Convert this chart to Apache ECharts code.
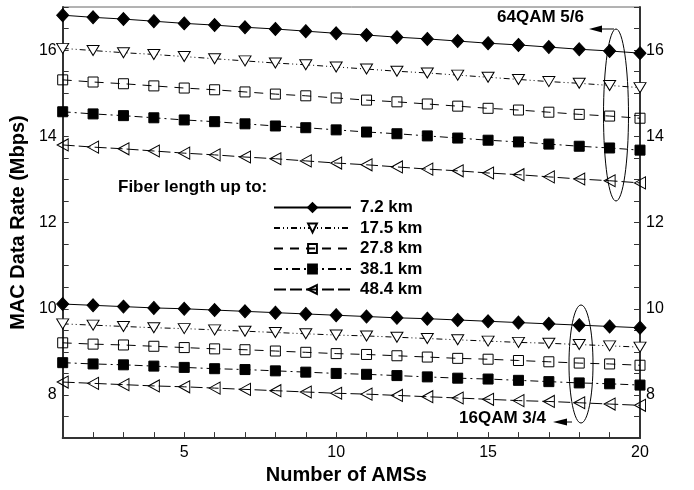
<!DOCTYPE html>
<html>
<head>
<meta charset="utf-8">
<script src="https://cdn.jsdelivr.net/npm/echarts@6/dist/echarts.min.js"></script>
<style>
  html, body { margin: 0; padding: 0; background: #fff; }
  #chart { width: 694px; height: 490px; }
</style>
</head>
<body>
<div id="chart"></div>
<script>
// number of AMSs
let ams = [1, 2, 3, 4, 5, 6, 7, 8, 9, 10, 11, 12, 13, 14, 15, 16, 17, 18, 19, 20];
let fiber_names = ['7.2 km', '17.5 km', '27.8 km', '38.1 km', '48.4 km'];

// 64QAM 5/6
let qam64_72 = [16.81, 16.76, 16.72, 16.67, 16.62, 16.58, 16.53, 16.49, 16.44, 16.39, 16.35, 16.30, 16.26, 16.21, 16.16, 16.12, 16.07, 16.02, 15.98, 15.93];
let qam64_175 = [16.04, 15.99, 15.94, 15.90, 15.85, 15.80, 15.75, 15.70, 15.66, 15.61, 15.56, 15.51, 15.47, 15.42, 15.37, 15.32, 15.27, 15.23, 15.18, 15.13];
let qam64_278 = [15.31, 15.26, 15.22, 15.17, 15.12, 15.08, 15.03, 14.98, 14.94, 14.89, 14.84, 14.80, 14.75, 14.70, 14.65, 14.61, 14.56, 14.51, 14.47, 14.42];
let qam64_381 = [14.57, 14.52, 14.48, 14.43, 14.38, 14.34, 14.29, 14.24, 14.20, 14.15, 14.10, 14.06, 14.01, 13.96, 13.91, 13.87, 13.82, 13.77, 13.73, 13.68];
let qam64_484 = [13.80, 13.75, 13.71, 13.66, 13.61, 13.57, 13.52, 13.48, 13.43, 13.38, 13.34, 13.29, 13.24, 13.20, 13.15, 13.11, 13.06, 13.01, 12.97, 12.92];

// 16QAM 3/4
let qam16_72 = [10.11, 10.08, 10.05, 10.02, 10.00, 9.97, 9.94, 9.91, 9.88, 9.85, 9.82, 9.79, 9.77, 9.74, 9.71, 9.68, 9.65, 9.62, 9.59, 9.56];
let qam16_175 = [9.65, 9.62, 9.59, 9.56, 9.54, 9.51, 9.48, 9.45, 9.42, 9.39, 9.37, 9.34, 9.31, 9.28, 9.25, 9.22, 9.20, 9.17, 9.14, 9.11];
let qam16_278 = [9.21, 9.18, 9.16, 9.13, 9.10, 9.07, 9.05, 9.02, 8.99, 8.96, 8.94, 8.91, 8.88, 8.85, 8.83, 8.80, 8.77, 8.74, 8.72, 8.69];
let qam16_381 = [8.75, 8.72, 8.70, 8.67, 8.64, 8.61, 8.59, 8.56, 8.53, 8.50, 8.48, 8.45, 8.42, 8.39, 8.37, 8.34, 8.31, 8.28, 8.26, 8.23];
let qam16_484 = [8.30, 8.27, 8.24, 8.21, 8.19, 8.16, 8.13, 8.10, 8.07, 8.04, 8.02, 7.99, 7.96, 7.93, 7.90, 7.87, 7.85, 7.82, 7.79, 7.76];

let font = '"Liberation Sans", Arial, sans-serif';

// one look per fiber length
let styles = [
    { symbol: 'diamond', size: [12, 13], rotate: 0, fill: '#000', dash: 'solid' },
    { symbol: 'triangle', size: [12, 10], rotate: 180, fill: '#fff', dash: [6, 3, 1, 3, 1, 3] },
    { symbol: 'rect', size: 10, rotate: 0, fill: 'rgba(255,255,255,0)', dash: [9, 7] },
    { symbol: 'rect', size: 10, rotate: 0, fill: '#000', dash: [8, 4, 2, 4] },
    { symbol: 'triangle', size: [12, 11], rotate: 90, fill: 'rgba(255,255,255,0)', dash: [12, 4] }
];

function make_series(name, values, st) {
    return {
        name: name,
        type: 'line',
        data: ams.map(function (x, i) { return [x, values[i]]; }),
        symbol: st.symbol,
        symbolSize: st.size,
        symbolRotate: st.rotate,
        showAllSymbol: true,
        animation: false,
        lineStyle: { color: '#000', width: 1, type: st.dash },
        itemStyle: { color: st.fill, borderColor: '#000', borderWidth: 1 }
    };
}

let upper = [qam64_72, qam64_175, qam64_278, qam64_381, qam64_484];
let lower = [qam16_72, qam16_175, qam16_278, qam16_381, qam16_484];
let series = [];
fiber_names.forEach(function (n, i) {
    series.push(make_series(n, upper[i], styles[i]));
    series.push(make_series(n, lower[i], styles[i]));
});

function y_label(v) {
    return (Math.abs(v % 2) < 1e-6) ? String(v) : '';
}

let y_common = {
    type: 'value',
    min: 7,
    max: 17,
    interval: 0.5,
    axisLine: { show: true, lineStyle: { color: '#333', width: 2 } },
    axisTick: { show: true, inside: true, length: 6, lineStyle: { color: '#333' } },
    axisLabel: { color: '#000', fontSize: 16, fontFamily: font, formatter: y_label, margin: 6 },
    splitLine: { show: false }
};

let chart = echarts.init(document.getElementById('chart'));
chart.setOption({
    animation: false,
    grid: { left: 62, right: 54, top: 7, bottom: 44, show: true, borderColor: '#666', borderWidth: 1 },
    xAxis: {
        type: 'value',
        min: 1,
        max: 20,
        interval: 1,
        name: 'Number of AMSs',
        nameLocation: 'middle',
        nameGap: 22,
        nameTextStyle: { color: '#000', fontSize: 20, fontWeight: 'bold', fontFamily: font, padding: [0, 10, 0, 0] },
        axisLine: { lineStyle: { color: '#333', width: 2 } },
        axisTick: { inside: true, length: 6, lineStyle: { color: '#333' } },
        axisLabel: {
            color: '#000', fontSize: 16, fontFamily: font, margin: 6,
            formatter: function (v) { return v % 5 === 0 ? String(v) : ''; }
        },
        splitLine: { show: false }
    },
    yAxis: [
        Object.assign({}, y_common, {
            position: 'left',
            name: 'MAC Data Rate (Mbps)',
            nameLocation: 'middle',
            nameGap: 34,
            nameTextStyle: { color: '#000', fontSize: 20, fontWeight: 'bold', fontFamily: font }
        }),
        Object.assign({}, y_common, { position: 'right' })
    ],
    legend: {
        data: fiber_names,
        orient: 'vertical',
        left: 268,
        top: 194,
        itemWidth: 77,
        itemHeight: 11,
        itemGap: 3.5,
        textStyle: { color: '#000', fontSize: 17, fontWeight: 'bold', fontFamily: font, padding: [0, 0, 0, 4] },
        selectedMode: false
    },
    graphic: [
        {
            type: 'text', left: 118, top: 179,
            style: { text: 'Fiber length up to:', fill: '#000', font: 'bold 17px ' + font }
        },
        {
            type: 'text', left: 497, top: 9,
            style: { text: '64QAM 5/6', fill: '#000', font: 'bold 17px ' + font }
        },
        {
            type: 'text', left: 459, top: 410,
            style: { text: '16QAM 3/4', fill: '#000', font: 'bold 17px ' + font }
        },
        {
            type: 'ellipse',
            shape: { cx: 616, cy: 115, rx: 12.5, ry: 86 },
            style: { fill: 'none', stroke: '#000', lineWidth: 1 }
        },
        {
            type: 'ellipse',
            shape: { cx: 581, cy: 364, rx: 12, ry: 59 },
            style: { fill: 'none', stroke: '#000', lineWidth: 1 }
        },
        {
            type: 'line',
            shape: { x1: 598, y1: 29, x2: 614, y2: 29 },
            style: { stroke: '#000', lineWidth: 1 }
        },
        {
            type: 'polygon',
            shape: { points: [[589, 29], [602, 25.5], [602, 32.5]] },
            style: { fill: '#000' }
        },
        {
            type: 'line',
            shape: { x1: 562, y1: 422, x2: 572, y2: 422 },
            style: { stroke: '#000', lineWidth: 1 }
        },
        {
            type: 'polygon',
            shape: { points: [[553, 422], [567, 418.5], [567, 425.5]] },
            style: { fill: '#000' }
        }
    ],
    series: series
});
</script>
</body>
</html>
